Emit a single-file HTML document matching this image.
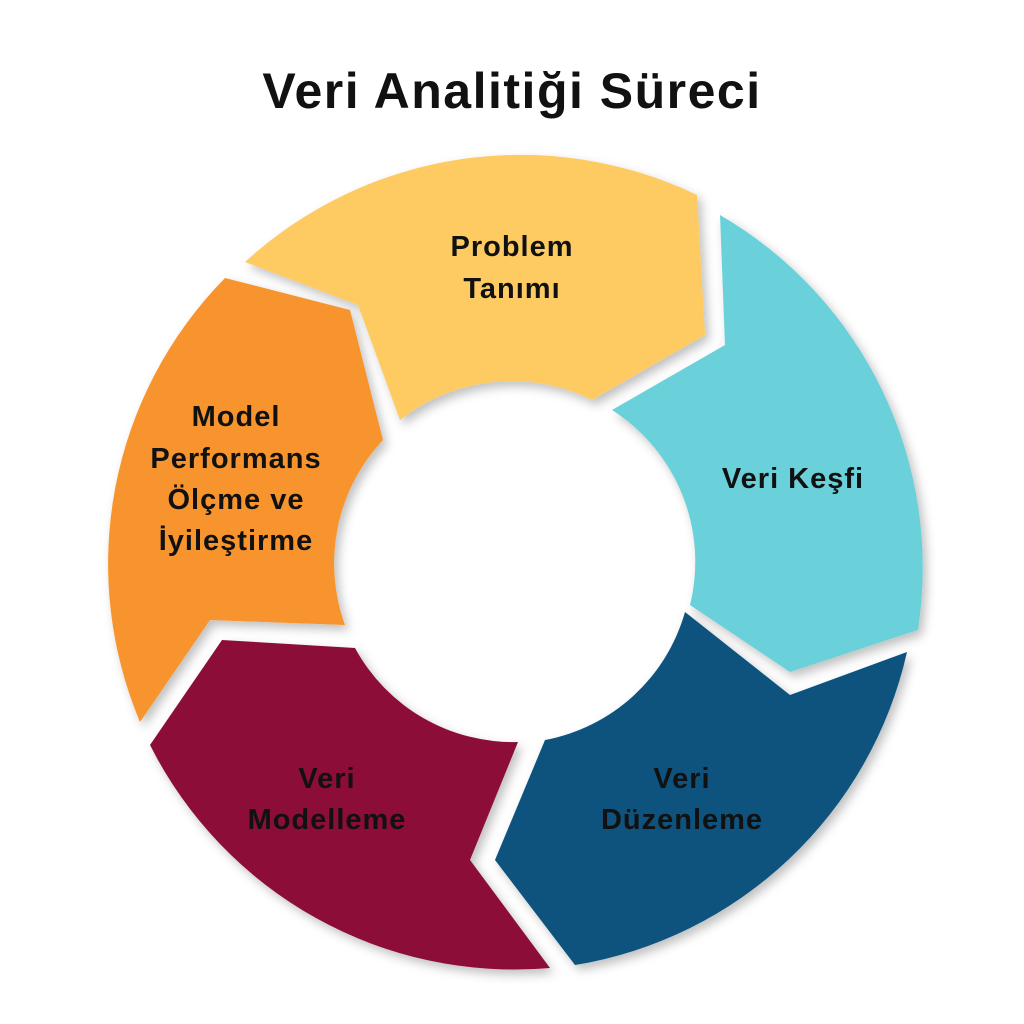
<!DOCTYPE html>
<html><head><meta charset="utf-8"><style>
html,body{margin:0;padding:0;background:#fff;}
svg{display:block;}
text{font-family:"Liberation Sans",Arial,sans-serif;font-weight:bold;fill:#111;text-anchor:middle;}
</style></head><body>
<svg width="1024" height="1024" viewBox="0 0 1024 1024" xmlns="http://www.w3.org/2000/svg">
<defs>
<filter id="sh" x="-10%" y="-10%" width="130%" height="130%">
<feDropShadow dx="4" dy="5" stdDeviation="5" flood-color="#000" flood-opacity="0.25"/>
</filter>
</defs>
<text x="512" y="108" font-size="50" letter-spacing="1.5">Veri Analitiği Süreci</text>
<g filter="url(#sh)">
<path fill="#FDCB62" d="M245,262 A408,408 0 0 1 697,195 L705,335 L592,400 A180,180 0 0 0 400,420 L358,305 Z"/>
<path fill="#6BD0D9" d="M720,215 A408,408 0 0 1 918,630 L790,672 L690,605 A180,180 0 0 0 612,410 L725,345 Z"/>
<path fill="#0B527E" d="M907,652 A408,408 0 0 1 575,965 L495,860 L545,740 A180,180 0 0 0 685,612 L790,695 Z"/>
<path fill="#8B1038" d="M550,968 A408,408 0 0 1 150,745 L222,640 L355,648 A180,180 0 0 0 518,742 L470,860 Z"/>
<path fill="#F7942E" d="M140,722 A408,408 0 0 1 225,278 L350,310 L383,440 A180,180 0 0 0 345,625 L210,620 Z"/>
</g>
<g font-size="29" letter-spacing="1">
<text x="512" y="256">Problem</text>
<text x="512" y="298">Tanımı</text>
<text x="793" y="488">Veri Keşfi</text>
<text x="682" y="788">Veri</text>
<text x="682" y="829">Düzenleme</text>
<text x="327" y="788">Veri</text>
<text x="327" y="829">Modelleme</text>
<text x="236" y="426">Model</text>
<text x="236" y="468">Performans</text>
<text x="236" y="509">Ölçme ve</text>
<text x="236" y="550">İyileştirme</text>
</g>
</svg>
</body></html>
